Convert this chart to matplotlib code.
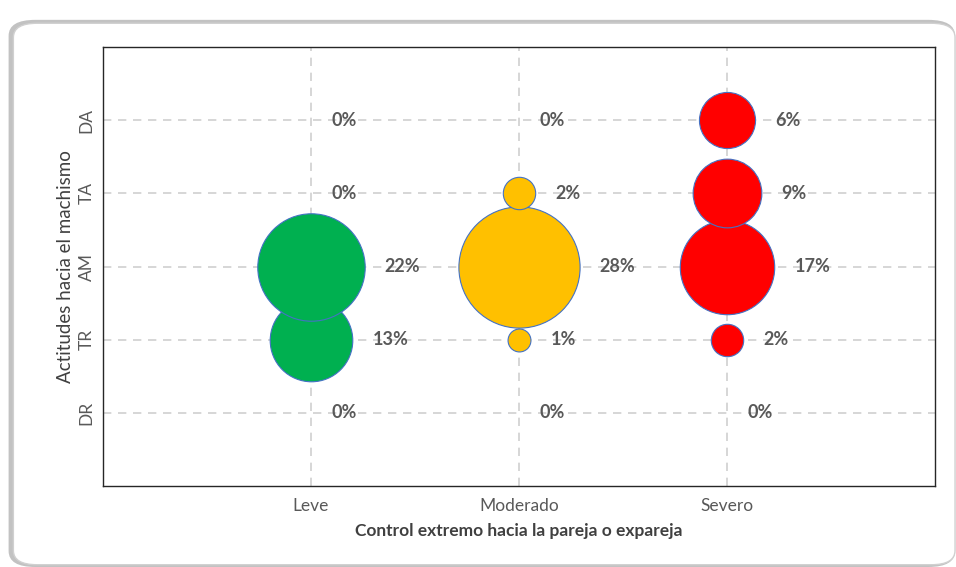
import numpy as np
import matplotlib.pyplot as plt
from matplotlib.patches import FancyBboxPatch

plt.rcParams['font.family'] = ['Lato', 'DejaVu Sans']

# data
x_labels = ['Leve', 'Moderado', 'Severo']
y_labels = ['DR', 'TR', 'AM', 'TA', 'DA']
leve = [0, 13, 22, 0, 0]
moderado = [0, 1, 28, 2, 0]
severo = [0, 2, 17, 9, 6]
colors = ['#00B050', '#FFC000', '#FF0000']

fig = plt.figure(figsize=(9.56, 5.67), dpi=100)

# rounded outer frame with shadow (behind the axes)
shadow = FancyBboxPatch((0.009, 0.0), 0.99, 0.965, boxstyle='round,pad=0,rounding_size=0.028',
                        transform=fig.transFigure, facecolor='#9a9a9a', edgecolor='none',
                        alpha=0.6, zorder=-2)
frame = FancyBboxPatch((0.014, 0.004), 0.985, 0.955, boxstyle='round,pad=0,rounding_size=0.025',
                       transform=fig.transFigure, facecolor='white', edgecolor='#d0d0d0',
                       linewidth=1.0, zorder=-1)
fig.patches.append(shadow)
fig.patches.append(frame)

ax = fig.add_axes([0.1077, 0.1429, 0.8703, 0.774])
ax.set_xlim(0, 4)
ax.set_ylim(0, 6)

scale = 272  # marker area (pt^2) per percent
for i, vals in enumerate([leve, moderado, severo]):
    for j, v in enumerate(vals):
        xi, yj = i + 1, j + 1
        if v > 0:
            ax.scatter(xi, yj, s=v * scale, color=colors[i], edgecolors='#4472C4',
                       linewidths=0.8, zorder=3 + j)
        r_pt = np.sqrt(v * scale) / 2
        ax.annotate(f'{v}%', (xi, yj), xytext=(r_pt + 14.5, 0), textcoords='offset points',
                    ha='left', va='center', fontsize=13, fontweight='bold', color='#595959',
                    zorder=10)

ax.set_xticks([1, 2, 3])
ax.set_xticklabels(x_labels, fontsize=12.5, color='#595959')
ax.set_yticks([1, 2, 3, 4, 5])
ax.set_yticklabels(y_labels, fontsize=12.5, color='#595959', rotation=90, va='center')
ax.tick_params(axis='x', length=0, pad=9)
ax.tick_params(axis='y', length=0, pad=6)
ax.grid(True, color='#d0d0d0', linestyle=(0, (5, 4)), linewidth=1.2, zorder=0)
ax.set_axisbelow(True)
for sp in ax.spines.values():
    sp.set_color('#262626')
    sp.set_linewidth(1.0)

ax.set_xlabel('Control extremo hacia la pareja o expareja', fontsize=12.5, fontweight='bold',
              color='#404040', labelpad=6)
ax.set_ylabel('Actitudes hacia el machismo', fontsize=13.5, color='#404040', labelpad=3)

fig.savefig('out.png', dpi=100)
